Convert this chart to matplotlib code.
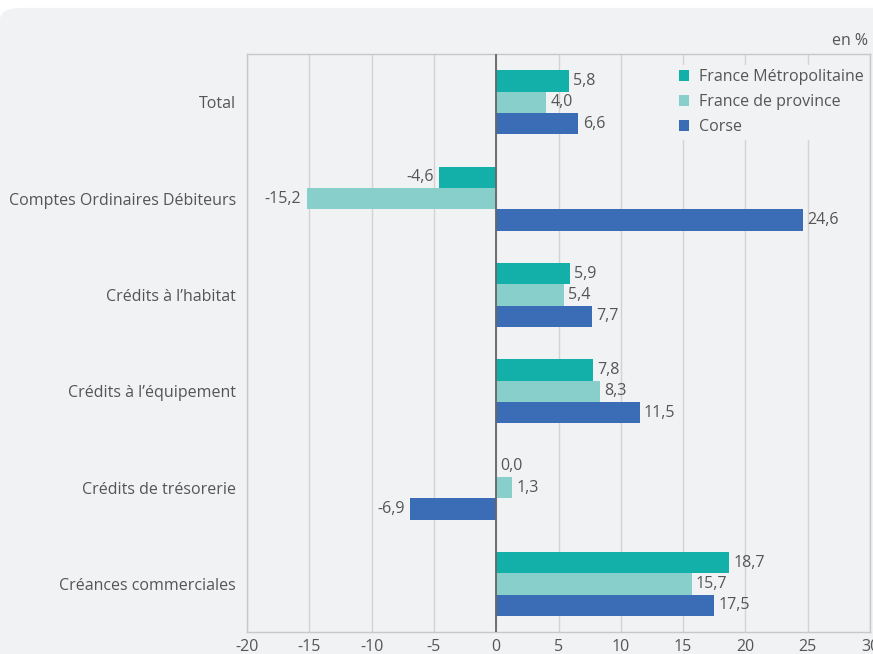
import matplotlib.pyplot as plt
import numpy as np
from matplotlib.patches import FancyBboxPatch

plt.rcParams['font.family'] = ['Open Sans', 'DejaVu Sans']

categories = ["Total", "Comptes Ordinaires Débiteurs", "Crédits à l’habitat",
              "Crédits à l’équipement", "Crédits de trésorerie", "Créances commerciales"]
metro = [5.8, -4.6, 5.9, 7.8, 0.0, 18.7]
province = [4.0, -15.2, 5.4, 8.3, 1.3, 15.7]
corse = [6.6, 24.6, 7.7, 11.5, -6.9, 17.5]
series_names = ["France Métropolitaine", "France de province", "Corse"]
colors = ["#12b0a9", "#88cfcc", "#3a6db5"]
xticks = [-20, -15, -10, -5, 0, 5, 10, 15, 20, 25, 30]

BG = "#f1f2f4"
TXT = "#555555"
FS = 11.5

fig = plt.figure(figsize=(8.73, 6.54), dpi=100, facecolor="white")
# rounded background panel (only top-left corner visible)
panel = FancyBboxPatch((0.0, -0.1), 1.1, 1.088, boxstyle="round,pad=0,rounding_size=0.025",
                       transform=fig.transFigure, facecolor=BG, edgecolor="none",
                       mutation_aspect=654 / 873, zorder=-10)
fig.patches.append(panel)

ax = fig.add_axes([0.283, 0.0336, 0.7136, 0.8834])
ax.set_facecolor(BG)

y = np.arange(len(categories))
h = 0.222
offsets = [-h, 0, h]
for vals, name, col, off in zip([metro, province, corse], series_names, colors, offsets):
    bars = ax.barh(y + off, vals, height=h, color=col, label=name, zorder=3)
    for b, v in zip(bars, vals):
        lbl = f"{v:.1f}".replace(".", ",")
        if v < 0:
            ax.annotate(lbl, (v, b.get_y() + h / 2), xytext=(-4, 0), textcoords="offset points",
                        ha="right", va="center", fontsize=FS, color=TXT, zorder=4)
        else:
            ax.annotate(lbl, (v, b.get_y() + h / 2), xytext=(3, 0), textcoords="offset points",
                        ha="left", va="center", fontsize=FS, color=TXT, zorder=4)

ax.set_xlim(-20, 30)
ax.set_ylim(len(categories) - 0.5, -0.5)
ax.set_xticks(xticks)
ax.set_xticklabels([str(t) for t in xticks])
ax.set_yticks(y)
ax.set_yticklabels(categories)
ax.tick_params(axis="both", length=0, labelsize=FS, labelcolor=TXT)
ax.tick_params(axis="x", pad=5)
ax.tick_params(axis="y", pad=8)
ax.grid(axis="x", color="#d3d3d3", linewidth=1, zorder=1)
ax.axvline(0, color="#666666", linewidth=1.3, zorder=5)
for s in ["left", "top", "bottom", "right"]:
    ax.spines[s].set_color("#c8c8c8")
    ax.spines[s].set_linewidth(1)

leg = ax.legend(loc="upper right", bbox_to_anchor=(1.0, 0.985), frameon=True, fontsize=FS,
                handlelength=0.65, handleheight=0.65, handletextpad=0.6, labelspacing=0.56,
                borderpad=0.3, borderaxespad=0.1)
leg.get_frame().set_facecolor(BG)
leg.get_frame().set_edgecolor("none")
leg.get_frame().set_alpha(1)
for t in leg.get_texts():
    t.set_color(TXT)
leg.set_zorder(6)

fig.text(0.994, 0.938, "en %", ha="right", va="center", fontsize=FS, color=TXT)

plt.savefig("out.png", dpi=100, facecolor="white")
